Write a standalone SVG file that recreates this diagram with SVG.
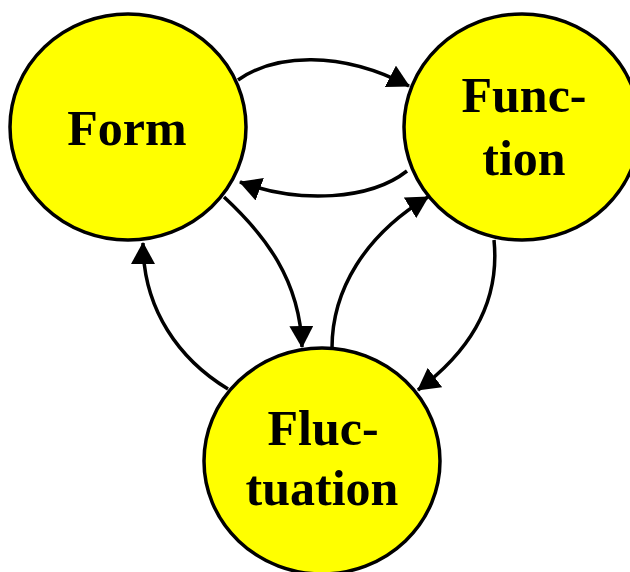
<svg xmlns="http://www.w3.org/2000/svg" width="630" height="572" viewBox="0 0 630 572">
<style>
.node{fill:#ffff00;stroke:#000;stroke-width:3.5}
.lbl{font-family:"Liberation Serif","Times New Roman",serif;font-weight:bold;font-size:50px;fill:#000;text-anchor:middle}
.edge{fill:none;stroke:#000;stroke-width:3.5;marker-end:url(#ah)}
</style>
<defs>
<marker id="ah" viewBox="0 0 22 24" refX="21" refY="12" markerWidth="22" markerHeight="24" markerUnits="userSpaceOnUse" orient="auto">
<path d="M0,0 L22,12 L0,24 z" fill="#000"/>
</marker>
</defs>
<rect width="630" height="572" fill="#fff"/>
<g id="form">
<ellipse class="node" cx="128" cy="127" rx="118" ry="113"/>
<text class="lbl" x="127" y="145">Form</text>
</g>
<g id="function">
<ellipse class="node" cx="522" cy="127" rx="118" ry="113"/>
<text class="lbl" x="524" y="112">Func-</text>
<text class="lbl" x="524" y="175">tion</text>
</g>
<g id="fluctuation">
<ellipse class="node" cx="322" cy="461" rx="118" ry="113"/>
<text class="lbl" x="323" y="445">Fluc-</text>
<text class="lbl" x="322" y="505">tuation</text>
</g>
<g id="connectors">
<path class="edge" d="M238,80 C275,54 340,50 409,86"/>
<path class="edge" d="M407,171 C370,200 300,204 240,182"/>
<path class="edge" d="M224,197 C265,235 300,280 302,347"/>
<path class="edge" d="M332,348 C332,290 365,235 428,197"/>
<path class="edge" d="M494,240 C500,300 472,350 418,390"/>
<path class="edge" d="M228,389 C180,360 143,310 143,243"/>
</g>
</svg>
